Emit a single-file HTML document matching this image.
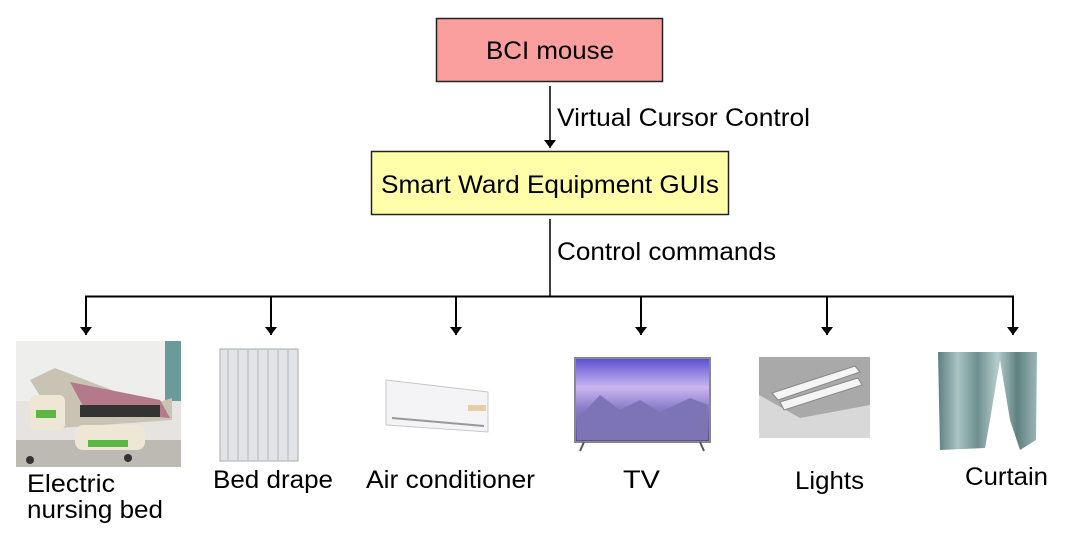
<!DOCTYPE html>
<html><head><meta charset="utf-8"><style>
html,body{margin:0;padding:0;background:#fff;width:1080px;height:538px;overflow:hidden}
svg text{font-family:"Liberation Sans",Arial,sans-serif;fill:#000}
</style></head><body>
<svg width="1080" height="538" viewBox="0 0 1080 538" xmlns="http://www.w3.org/2000/svg">
<defs>
<marker id="a" markerWidth="8" markerHeight="12" refX="8" refY="6" orient="auto" markerUnits="userSpaceOnUse">
<path d="M0,0 L8,6 L0,12 z" fill="#000"/></marker>
<linearGradient id="tv" x1="0" y1="0" x2="0" y2="1"><stop offset="0" stop-color="#5a4fd0"/><stop offset="0.35" stop-color="#c9b6f0"/><stop offset="0.6" stop-color="#8a7cc8"/><stop offset="1" stop-color="#5b4f9a"/></linearGradient>
<linearGradient id="cur" x1="0" y1="0" x2="1" y2="0"><stop offset="0" stop-color="#5f7f80"/><stop offset="0.2" stop-color="#a9c4c3"/><stop offset="0.4" stop-color="#6e8f8f"/><stop offset="0.6" stop-color="#b6cccc"/><stop offset="0.8" stop-color="#5f8080"/><stop offset="1" stop-color="#9ab6b5"/></linearGradient>
</defs>
<rect x="436.5" y="18.5" width="226" height="63" fill="#fa9e9e" stroke="#222" stroke-width="1.5"/>
<text x="486" y="59" font-size="25" textLength="128" lengthAdjust="spacingAndGlyphs">BCI mouse</text>
<line x1="550" y1="86" x2="550" y2="148" stroke="#000" stroke-width="1.5" marker-end="url(#a)"/>
<text x="557" y="126" font-size="25" textLength="253" lengthAdjust="spacingAndGlyphs">Virtual Cursor Control</text>
<rect x="371.5" y="151.5" width="357" height="63" fill="#ffffaa" stroke="#222" stroke-width="1.5"/>
<text x="381" y="193" font-size="25" textLength="338" lengthAdjust="spacingAndGlyphs">Smart Ward Equipment GUIs</text>
<line x1="550" y1="219" x2="550" y2="297" stroke="#000" stroke-width="1.5"/>
<text x="557" y="260" font-size="25" textLength="219" lengthAdjust="spacingAndGlyphs">Control commands</text>
<line x1="85" y1="296.5" x2="1014" y2="296.5" stroke="#000" stroke-width="2"/>
<g stroke="#000" stroke-width="2" marker-end="url(#a)">
<line x1="86" y1="296" x2="86" y2="335"/>
<line x1="271" y1="296" x2="271" y2="335"/>
<line x1="456" y1="296" x2="456" y2="335"/>
<line x1="641" y1="296" x2="641" y2="335"/>
<line x1="827" y1="296" x2="827" y2="335"/>
<line x1="1013" y1="296" x2="1013" y2="335"/>
</g>
<!-- bed -->
<rect x="16" y="341" width="165" height="126" fill="#e6e4e0"/>
<rect x="16" y="341" width="165" height="60" fill="#eeeeec"/>
<rect x="165" y="341" width="16" height="60" fill="#6a9a9a"/>
<rect x="16" y="440" width="165" height="27" fill="#bdbab4"/>
<path d="M30 380 L55 368 L150 405 L172 398 L172 420 L60 428 Z" fill="#c9c3b4"/>
<path d="M70 382 L160 400 L170 418 L85 410 Z" fill="#b37a8c"/>
<rect x="80" y="405" width="80" height="12" fill="#333"/>
<rect x="30" y="395" width="35" height="35" rx="6" fill="#eee7d6"/>
<rect x="36" y="410" width="20" height="8" fill="#5cb844"/>
<rect x="75" y="425" width="70" height="25" rx="8" fill="#eee7d6"/>
<rect x="88" y="440" width="40" height="7" fill="#5cb844"/>
<circle cx="128" cy="458" r="4" fill="#333"/><circle cx="30" cy="460" r="4" fill="#333"/>
<!-- drape -->
<rect x="220" y="349" width="78" height="112" fill="#e2e4e8" stroke="#aaa" stroke-width="1"/>
<g stroke="#c2c5cc" stroke-width="1.5"><line x1="228" y1="350" x2="228" y2="460"/><line x1="238" y1="350" x2="238" y2="460"/><line x1="248" y1="350" x2="248" y2="460"/><line x1="258" y1="350" x2="258" y2="460"/><line x1="268" y1="350" x2="268" y2="460"/><line x1="278" y1="350" x2="278" y2="460"/><line x1="288" y1="350" x2="288" y2="460"/></g>
<!-- AC -->
<path d="M386 380 L488 392 L488 432 L386 425 Z" fill="#f4f4f6" stroke="#c8c8cc"/>
<path d="M392 418 L484 426" stroke="#999" stroke-width="2"/>
<rect x="468" y="405" width="18" height="6" fill="#e6cfa8"/>
<!-- TV -->
<rect x="575" y="358" width="135" height="84" fill="url(#tv)" stroke="#888" stroke-width="2"/>
<path d="M577 420 L600 395 L620 410 L640 400 L660 412 L690 398 L708 405 L708 440 L577 440 Z" fill="#7d74b6"/>
<line x1="584" y1="442" x2="580" y2="451" stroke="#555" stroke-width="2"/><line x1="700" y1="442" x2="704" y2="451" stroke="#555" stroke-width="2"/>
<!-- Lights -->
<rect x="759" y="357" width="111" height="81" fill="#d8d8d8"/>
<path d="M759 357 L870 357 L870 405 L800 418 L759 395 Z" fill="#a9a9a9"/>
<path d="M772 393 L855 366 L860 372 L778 400 Z" fill="#f5f5f5" stroke="#888"/>
<path d="M780 402 L858 378 L862 385 L784 410 Z" fill="#f5f5f5" stroke="#888"/>
<!-- Curtain -->
<path d="M938 352 L1037 352 L1036 440 L1020 450 L1010 420 L1000 360 L990 420 L985 448 L940 450 Z" fill="url(#cur)"/>
<!-- labels -->
<text x="27" y="492" font-size="25" textLength="88" lengthAdjust="spacingAndGlyphs">Electric</text>
<text x="27" y="518" font-size="25" textLength="136" lengthAdjust="spacingAndGlyphs">nursing bed</text>
<text x="213" y="488" font-size="25" textLength="120" lengthAdjust="spacingAndGlyphs">Bed drape</text>
<text x="366" y="488" font-size="25" textLength="169" lengthAdjust="spacingAndGlyphs">Air conditioner</text>
<text x="623" y="488" font-size="25" textLength="37" lengthAdjust="spacingAndGlyphs">TV</text>
<text x="795" y="489" font-size="25" textLength="69" lengthAdjust="spacingAndGlyphs">Lights</text>
<text x="965" y="485" font-size="25" textLength="83" lengthAdjust="spacingAndGlyphs">Curtain</text>
</svg>
</body></html>
